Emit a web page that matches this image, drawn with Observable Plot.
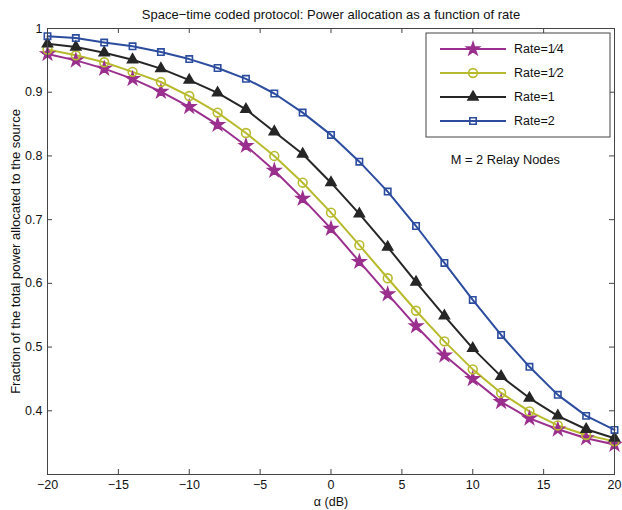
<!DOCTYPE html>
<html><head><meta charset="utf-8">
<script src="https://cdn.jsdelivr.net/npm/d3@7"></script>
<script src="https://cdn.jsdelivr.net/npm/@observablehq/plot@0.6"></script>
<style>body{margin:0;background:#fff;} #chart svg{overflow:visible;}</style>
</head><body><div id="chart"></div>
<script>
const alpha = [-20,-18,-16,-14,-12,-10,-8,-6,-4,-2,0,2,4,6,8,10,12,14,16,18,20];
const seriesNames = ["Rate=1\u20444","Rate=1\u20442","Rate=1","Rate=2"];
const rate14 = [0.960,0.950,0.937,0.921,0.901,0.877,0.849,0.816,0.777,0.733,0.686,0.634,0.583,0.533,0.487,0.450,0.414,0.388,0.371,0.357,0.347];
const rate12 = [0.967,0.958,0.947,0.932,0.916,0.894,0.868,0.836,0.800,0.758,0.711,0.660,0.608,0.557,0.509,0.465,0.428,0.399,0.377,0.362,0.352];
const rate1  = [0.976,0.971,0.962,0.951,0.937,0.919,0.899,0.873,0.838,0.803,0.758,0.709,0.657,0.602,0.549,0.498,0.454,0.420,0.392,0.371,0.357];
const rate2  = [0.988,0.985,0.978,0.972,0.963,0.952,0.938,0.921,0.898,0.868,0.833,0.791,0.744,0.690,0.632,0.574,0.519,0.469,0.425,0.392,0.370];
const xTicks = [-20,-15,-10,-5,0,5,10,15,20];
const yTicks = [0.4,0.5,0.6,0.7,0.8,0.9,1];
const titleText = "Space\u2212time coded protocol: Power allocation as a function of rate";
const xLabel = "\u03b1 (dB)";
const yLabel = "Fraction of the total power allocated to the source";
const noteText = "M = 2 Relay Nodes";

const colors = ["#9b2f8e","#b8ba2e","#262626","#2b4c9f"];
const symbols = ["star","circle","triangle","square"];
const fills = ["#9b2f8e","none","#262626","none"];
const radii = [3.9,4.4,3.7,3.6];

const allSeries = [rate14, rate12, rate1, rate2];
const rows = [];
allSeries.forEach((vals,i)=>vals.forEach((v,j)=>rows.push({s:i, a:alpha[j], v})));

const W = 622, H = 510;
const mL = 47, mR = 8, mT = 28, mB = 36;
const innerW = W - mL - mR, innerH = H - mT - mB;
const fmtX = d => d < 0 ? "\u2212" + Math.abs(d) : String(d);
const tickLen = 5;
const axisColor = "#444";
const fontFam = "'Liberation Sans', Arial, Helvetica, sans-serif";

const marks = [];
allSeries.forEach((vals,i)=>{
  const data = rows.filter(r=>r.s===i);
  marks.push(Plot.line(data,{x:"a",y:"v",stroke:colors[i],strokeWidth:2}));
});
allSeries.forEach((vals,i)=>{
  const data = rows.filter(r=>r.s===i);
  marks.push(Plot.dot(data,{x:"a",y:"v",symbol:()=>symbols[i],r:radii[i],stroke:colors[i],fill:fills[i],strokeWidth:1.6}));
});
marks.push(
  Plot.tickX(xTicks,{x:d=>d,insetTop:innerH-tickLen,stroke:axisColor}),
  Plot.tickX(xTicks,{x:d=>d,insetBottom:innerH-tickLen,stroke:axisColor}),
  Plot.tickY(yTicks,{y:d=>d,insetRight:innerW-tickLen,stroke:axisColor}),
  Plot.tickY(yTicks,{y:d=>d,insetLeft:innerW-tickLen,stroke:axisColor}),
  Plot.frame({stroke:axisColor}),
  Plot.axisX(xTicks,{anchor:"bottom",tickSize:0,tickPadding:6,tickFormat:fmtX,fontSize:12.5,label:null}),
  Plot.axisY(yTicks,{anchor:"left",tickSize:0,tickPadding:5,tickFormat:d=>String(d),fontSize:12.5,label:null}),
  Plot.text([titleText],{frameAnchor:"top",dy:-14,text:d=>d,fontSize:13,lineAnchor:"middle"}),
  Plot.text([xLabel],{frameAnchor:"bottom",dy:27,text:d=>d,fontSize:12.5,lineAnchor:"middle"}),
  Plot.text([yLabel],{frameAnchor:"left",dx:-32,rotate:-90,text:d=>d,fontSize:13,textAnchor:"middle",lineAnchor:"middle"}),
  Plot.text([noteText],{x:()=>12.3,y:()=>0.793,text:d=>d,fontSize:12.8,textAnchor:"middle",lineAnchor:"middle"})
);

const plot = Plot.plot({
  width:W, height:H,
  marginLeft:mL, marginRight:mR, marginTop:mT, marginBottom:mB,
  style:{fontFamily:fontFam, fontSize:"12px", background:"#fff", color:"#111"},
  x:{domain:[-20,20], axis:null},
  y:{domain:[0.3,1], axis:null},
  marks
});
document.getElementById("chart").appendChild(plot);

// legend
const svg = d3.select(plot);
const lg = svg.append("g").attr("font-family",fontFam).attr("font-size",12.5).attr("text-anchor","start");
const lx = 426, ly = 33, lw = 184, lh = 104;
lg.append("rect").attr("x",lx).attr("y",ly).attr("width",lw).attr("height",lh).attr("fill","#fff").attr("stroke",axisColor);
const d3sym = {star:d3.symbolStar,circle:d3.symbolCircle,triangle:d3.symbolTriangle,square:d3.symbolSquare};
seriesNames.forEach((name,i)=>{
  const y = ly + 16 + i*24;
  lg.append("line").attr("x1",lx+14).attr("x2",lx+80).attr("y1",y).attr("y2",y).attr("stroke",colors[i]).attr("stroke-width",2);
  lg.append("path").attr("d",d3.symbol().type(d3sym[symbols[i]]).size(Math.PI*radii[i]*radii[i])())
    .attr("transform",`translate(${lx+47},${y})`).attr("stroke",colors[i]).attr("fill",fills[i]).attr("stroke-width",1.6);
  lg.append("text").attr("x",lx+88).attr("y",y).attr("dy","0.35em").attr("fill","#111").attr("text-anchor","start").text(name);
});
</script>
</body></html>
